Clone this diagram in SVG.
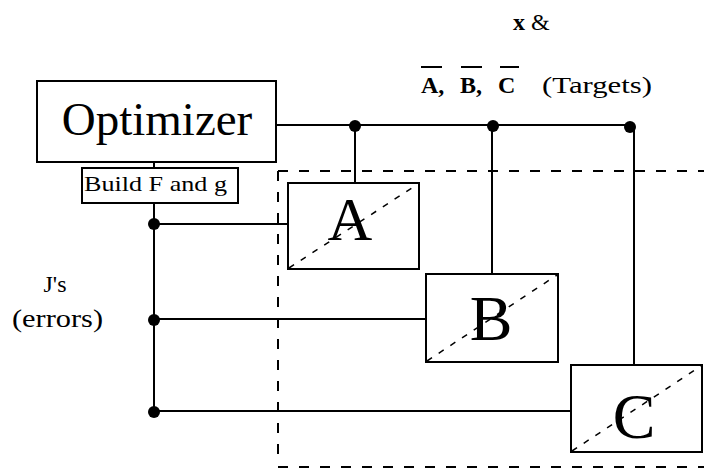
<svg xmlns="http://www.w3.org/2000/svg" width="704" height="469" viewBox="0 0 704 469">
<style>
.box{fill:#fff;stroke:#000;stroke-width:2}
.ln{fill:none;stroke:#000;stroke-width:2}
.dash{fill:none;stroke:#000;stroke-width:2;stroke-dasharray:10 11}
.diag{fill:none;stroke:#000;stroke-width:1.5;stroke-dasharray:6 8}
.dot{fill:#000}
.t{font-family:"Liberation Serif","Times New Roman",serif;fill:#000}
</style>
<rect width="704" height="469" fill="#fff"/>
<g id="region">
<path class="dash" d="M278 171 H704 M278 171 V462 M278 467 H704"/>
</g>
<g id="connectors">
<path class="ln" d="M276 125 H630 M355 125 V183 M492 125 V274 M634 125 V365"/>
<path class="ln" d="M154 162 V168 M154 203 V411 M154 224 H288 M154 319 H426 M154 411 H571"/>
<circle class="dot" cx="355" cy="126" r="6"/>
<circle class="dot" cx="493" cy="126" r="6"/>
<circle class="dot" cx="630" cy="127" r="6"/>
<circle class="dot" cx="154" cy="224" r="6"/>
<circle class="dot" cx="154" cy="320" r="6"/>
<circle class="dot" cx="154" cy="412" r="6"/>
</g>
<g id="optimizer">
<rect class="box" x="37" y="81" width="239" height="81"/>
<text class="t" x="157" y="135" font-size="47" text-anchor="middle">Optimizer</text>
</g>
<g id="build">
<rect class="box" x="82" y="168" width="156" height="35"/>
<text class="t" x="84" y="191" font-size="21" textLength="143" lengthAdjust="spacingAndGlyphs">Build F and g</text>
</g>
<g id="A">
<rect class="box" x="288" y="183" width="131" height="86"/>
<path class="diag" d="M289 268 L418 184"/>
<text class="t" x="350" y="240" font-size="62" text-anchor="middle">A</text>
</g>
<g id="B">
<rect class="box" x="426" y="274" width="132" height="88"/>
<path class="diag" d="M427 361 L557 275"/>
<text class="t" x="491" y="340" font-size="64" text-anchor="middle">B</text>
</g>
<g id="C">
<rect class="box" x="571" y="365" width="131" height="87"/>
<path class="diag" d="M572 451 L701 366"/>
<text class="t" x="634" y="438" font-size="64" text-anchor="middle">C</text>
</g>
<g id="targets">
<text class="t" x="513" y="30" font-size="24"><tspan font-weight="bold">x</tspan> &amp;</text>
<text class="t" x="421" y="93" font-size="24" font-weight="bold">A,</text>
<text class="t" x="460" y="93" font-size="24" font-weight="bold">B,</text>
<text class="t" x="498" y="93" font-size="24" font-weight="bold">C</text>
<path class="ln" d="M421 67 H442 M461 67 H482 M500 67 H519" stroke-width="1.5"/>
<text class="t" x="542" y="93" font-size="24" textLength="110" lengthAdjust="spacingAndGlyphs">(Targets)</text>
</g>
<g id="errors">
<text class="t" x="55" y="292" font-size="24" text-anchor="middle">J's</text>
<text class="t" x="12" y="327" font-size="25" textLength="91" lengthAdjust="spacingAndGlyphs">(errors)</text>
</g>
</svg>
